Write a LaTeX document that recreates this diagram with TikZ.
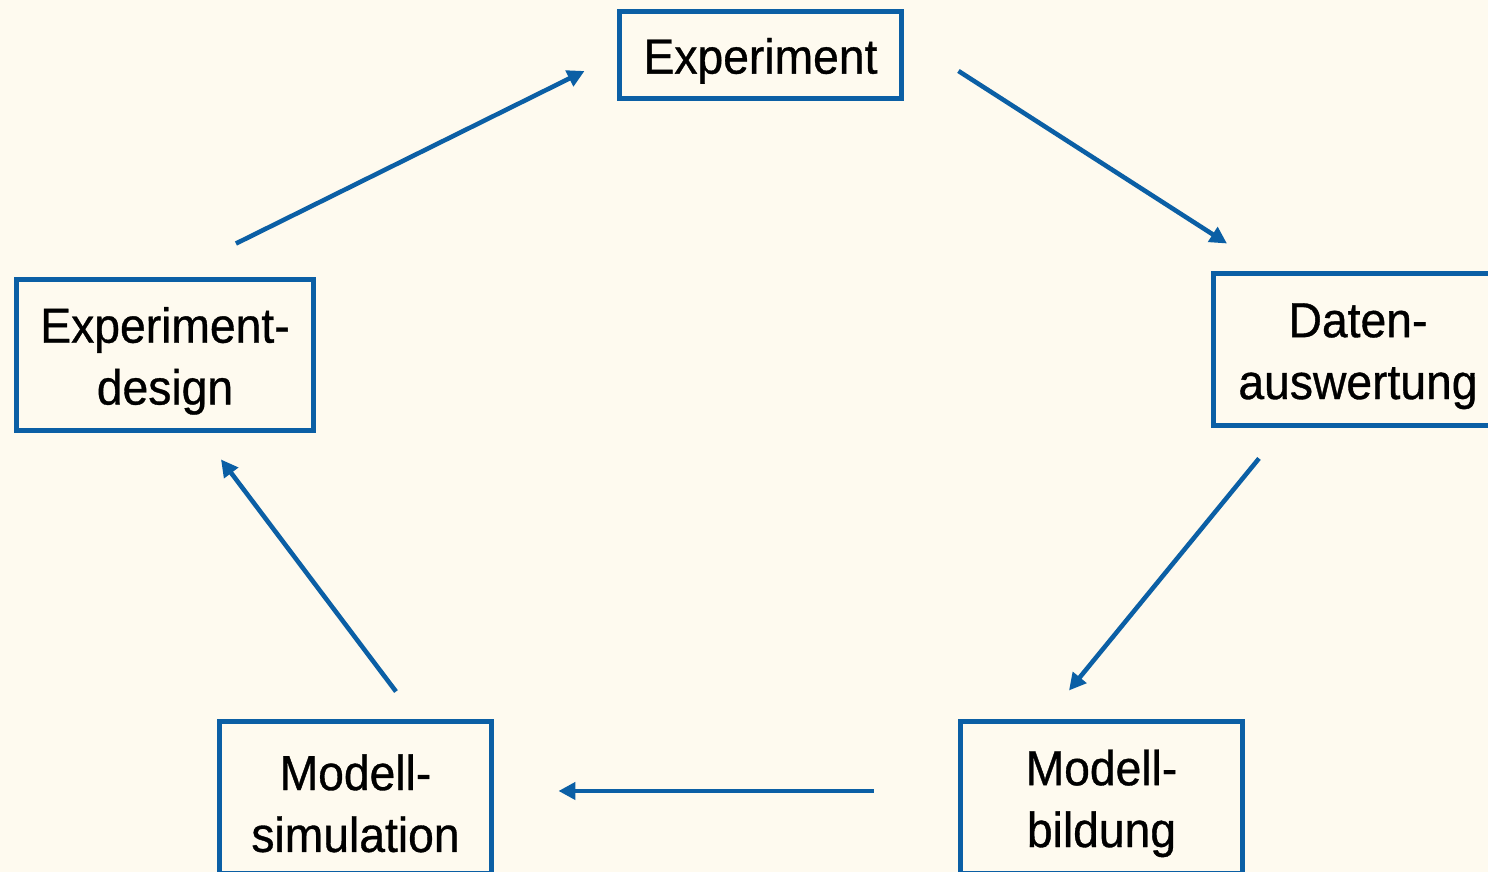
\documentclass[tikz,border=0pt]{standalone}
\usepackage{fontspec}
\setmainfont[FakeStretch=0.94, FakeBold=0.7]{Liberation Sans}
\usepackage{tikz}
\usetikzlibrary{arrows.meta, positioning}
\definecolor{cycleblue}{HTML}{0B5FA5}
\definecolor{paper}{HTML}{FEFAEF}
\newcommand{\toplift}{\rule{0pt}{13.5pt}}

\begin{document}
\begin{tikzpicture}[
    step box/.style={draw=cycleblue, rectangle, line width=1.4pt, align=center, inner sep=0pt, font=\fontsize{14}{17.6}\selectfont},
    cycle arrow/.style={draw=cycleblue, line width=1.3pt, -{Triangle[length=1.7mm, width=1.7mm]}}
  ]
  \fill[paper] (0,0) rectangle (14.88,8.72);
  \useasboundingbox (0,0) rectangle (14.88,8.72);

  \node[step box, minimum width=2.82cm, minimum height=0.87cm, text height=13.5pt] (exp) at (7.605, 8.17) {Experiment};
  \node[step box, minimum width=2.89cm, minimum height=1.52cm] (daten) at (13.58, 5.225) {\toplift Daten-\\auswertung};
  \node[step box, minimum width=2.82cm, minimum height=1.52cm] (bildung) at (11.015, 0.745) {\toplift Modell-\\bildung};
  \node[step box, minimum width=2.72cm, minimum height=1.52cm] (simul) at (3.555, 0.745) {\toplift Modell-\\simulation};
  \node[step box, minimum width=2.97cm, minimum height=1.51cm] (design) at (1.65, 5.17) {\toplift Experiment-\\design};

  \draw[cycle arrow] ([shift={(0.71,0.335)}]design.north) -- ([shift={(-0.325,-0.16)}]exp.west);
  \draw[cycle arrow] ([shift={(0.545,-0.16)}]exp.east) -- ([shift={(-1.31,0.275)}]daten.north);
  \draw[cycle arrow] ([shift={(-0.99,-0.305)}]daten.south) -- ([shift={(-0.325,0.285)}]bildung.north);
  \draw[cycle arrow] ([shift={(-0.845,0.065)}]bildung.west) -- ([shift={(0.645,0.065)}]simul.east);
  \draw[cycle arrow] ([shift={(0.405,0.275)}]simul.north) -- ([shift={(0.56,-0.265)}]design.south);
\end{tikzpicture}
\end{document}
